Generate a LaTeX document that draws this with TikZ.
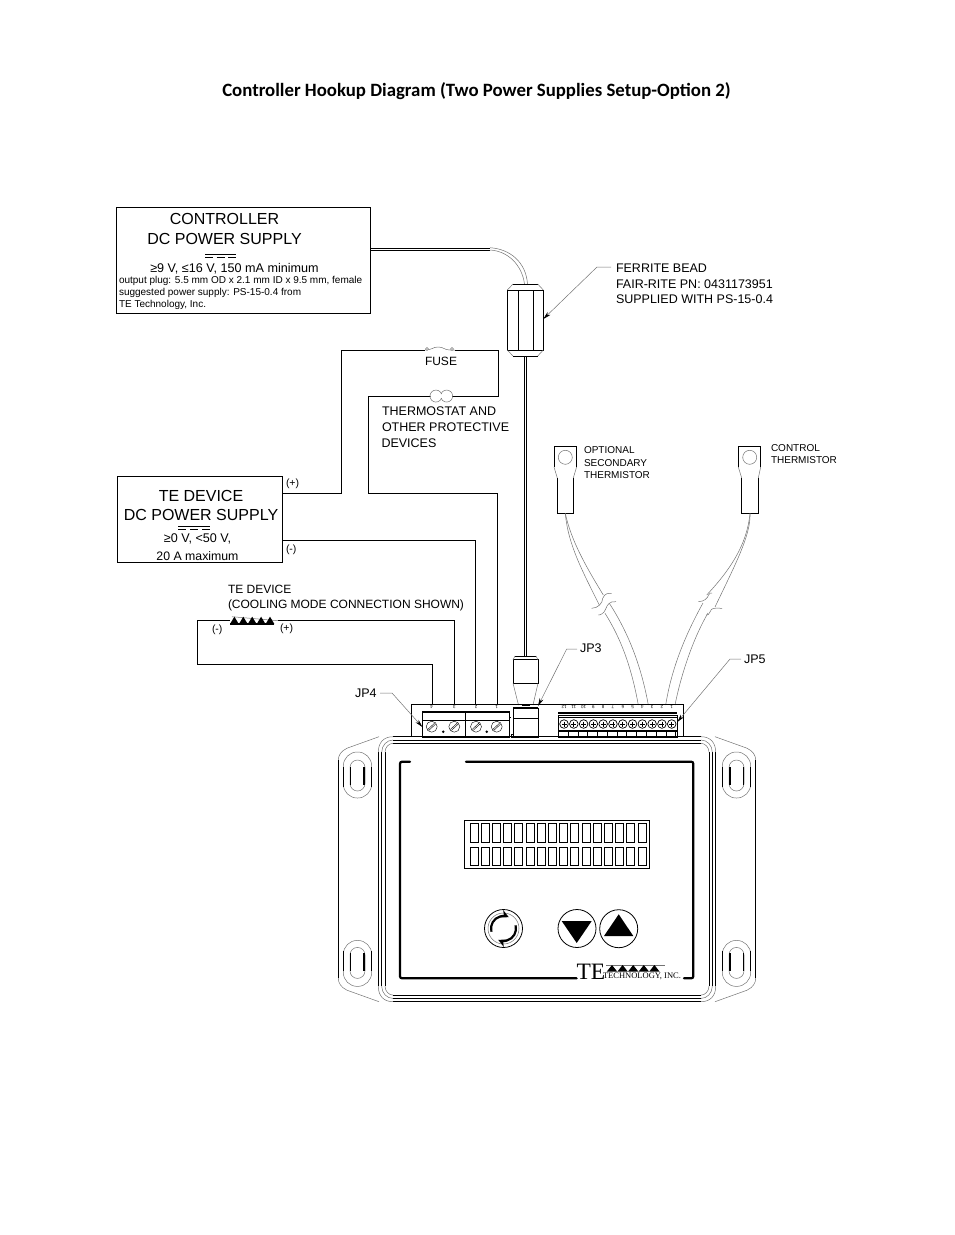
\documentclass[tikz,border=0pt]{standalone}
\usepackage{fontspec}
\setmainfont{Liberation Sans}
\newfontfamily\titlefont{Carlito}
\newfontfamily\logofont{Liberation Serif}
\usepackage{tikz}
\usetikzlibrary{arrows.meta}
\newcommand{\fs}[1]{\fontsize{#1}{#1}\selectfont}
\tikzset{
    psbox/.style={draw, line width=0.9pt, inner sep=0pt, outer sep=0pt},
    wire/.style={line width=1pt},
    thin wire/.style={line width=0.8pt},
    hair/.style={draw=black!55, line width=0.5pt},
    leader/.style={hair, -{Stealth[black, length=8pt, width=4pt]}},
    txt/.style={inner sep=0pt, outer sep=0pt, anchor=base west, align=left},
    mid/.style={inner sep=0pt, outer sep=0pt, anchor=base},
    pin/.style={inner sep=0pt, outer sep=0pt, rotate=180, font=\fs{4.5}},
    btn/.style={circle, draw, line width=0.8pt, minimum size=38pt, inner sep=0pt, outer sep=0pt},
    tri/.style={fill=black, draw=none}
}
\begin{document}
\begin{tikzpicture}[x=1pt, y=-1pt]
\useasboundingbox (0,0) rectangle (954,1235);
\node[mid, font=\titlefont\bfseries\fs{18.8}] (title) at (476.5,96) {Controller Hookup Diagram (Two Power Supplies Setup-Option 2)};

\node[psbox, minimum width=254pt, minimum height=106pt] (ctrlbox) at (243,260) {};
\node[mid, font=\fs{16}] (ctrlone) at (224.5,224) {CONTROLLER};
\node[mid, font=\fs{16}] (ctrltwo) at (224.5,244) {DC POWER SUPPLY};
\draw[line width=0.7pt] (205,254) -- (236,254);
\draw[line width=0.7pt, dash pattern=on 8pt off 3.5pt] (205,257) -- (236,257);
\node[mid, font=\fs{12.6}] (ctrlthree) at (234.5,272) {≥9 V, ≤16 V, 150 mA minimum};
\node[txt, font=\fs{10}] (ctrlfour) at (119,283) {output plug: 5.5 mm OD x 2.1 mm ID x 9.5 mm, female};
\node[txt, font=\fs{10}] (ctrlfive) at (119,295) {suggested power supply: PS-15-0.4 from};
\node[txt, font=\fs{10}] (ctrlsix) at (119,307) {TE Technology, Inc.};

\node[psbox, minimum width=165.3pt, minimum height=86pt] (tebox) at (199.7,519.7) {};
\node[mid, font=\fs{16}] (teone) at (201,501) {TE DEVICE};
\node[mid, font=\fs{16}] (tetwo) at (201,520) {DC POWER SUPPLY};
\draw[line width=0.7pt] (178,526) -- (210,526);
\draw[line width=0.7pt, dash pattern=on 8pt off 4pt] (178,529) -- (210,529);
\node[mid, font=\fs{12.6}] (tethree) at (197.5,542) {≥0 V, <50 V,};
\node[mid, font=\fs{12.3}] (tefour) at (197.5,560) {20 A maximum};

\coordinate (ctrlout) at (370,248);
\coordinate (ctrlouttwo) at (370,250);
\coordinate (teplus) at (282.3,493.3);
\coordinate (teminus) at (282.3,540);
\coordinate (fuseleft) at (425,350);
\coordinate (fuseright) at (455,350);
\coordinate (thermleft) at (430,396);
\coordinate (thermright) at (452,396);
\coordinate (pelleft) at (230,620.7);
\coordinate (pelright) at (278,620.7);
\coordinate (pinone) at (432.3,704);
\coordinate (pintwo) at (454.3,704);
\coordinate (pinthree) at (475.5,704);
\coordinate (pinfour) at (497.3,704);

\draw[wire] (teplus) -| (341.7,350) -- (fuseleft);
\draw[wire] (fuseright) -| (498.3,396) -- (thermright);
\draw[wire] (thermleft) -| (368.3,493.3) -| (pinfour);
\draw[wire] (teminus) -| (pinthree);
\draw[wire] (pelright) -| (pintwo);
\draw[wire] (pelleft) -| (197.3,664) -| (pinone);

\draw[hair] (fuseleft) .. controls (432,350) and (433,347) .. (438,347) .. controls (444,347) and (444,350) .. (450,350) -- (fuseright);
\draw[hair, fill=white] (427,349) circle (1.5pt) (452,349) circle (1.5pt);
\draw[hair] (thermleft) -- (431,396);
\draw[hair] (441.6,394) arc[start angle=20, end angle=340, radius=6pt];
\draw[hair] (441,394) arc[start angle=160, end angle=-160, radius=6pt];
\node[mid, font=\fs{12}] (fuselbl) at (441,365) {FUSE};
\node[txt, font=\fs{12.5}] (thermone) at (382,415.5) {THERMOSTAT AND};
\node[txt, font=\fs{12.5}] (thermtwo) at (382,431.5) {OTHER PROTECTIVE};
\node[txt, font=\fs{12.5}] (thermthree) at (381.5,447) {DEVICES};
\node[txt, font=\fs{10.5}] (plus) at (286,486) {(+)};
\node[txt, font=\fs{10.5}] (minus) at (286,552) {(-)};
\node[txt, font=\fs{12}] (pelone) at (228,593) {TE DEVICE};
\node[txt, font=\fs{12}] (peltwo) at (228,608) {(COOLING MODE CONNECTION SHOWN)};
\node[txt, font=\fs{10.5}] (pelminus) at (212,632) {(-)};
\node[txt, font=\fs{10.5}] (pelplus) at (280,631) {(+)};
\draw[hair] (232,616.7) -- (pelright);
\draw[line width=1.2pt] (230,624) -- (274,624);
\foreach \i in {0,...,4}
    \fill[tri] (230+\i*8.9,624) -- (234.4+\i*8.9,616.7) -- (238.8+\i*8.9,624) -- cycle;

\draw[thin wire] (ctrlout) -- (490,248);
\draw[thin wire] (ctrlouttwo) -- (490,250);
\draw[hair] (490,247.7) .. controls (510,249) and (526,262) .. (527.5,284);
\draw[hair] (490,250) .. controls (508,251) and (522,265) .. (524.5,284);

\node[psbox, minimum width=36pt, minimum height=60pt] (bead) at (525.3,320) {};
\draw[line width=0.9pt] (518.3,290) -- (518.3,350);
\draw[line width=0.9pt] (533.3,290) -- (533.3,350);
\draw[line width=0.9pt] (513,284) -- (537.7,284);
\draw[line width=0.9pt] (513,356) -- (537.7,356);
\draw[hair] (bead.north west) -- (513,284) (bead.north east) -- (537.7,284);
\draw[hair] (bead.south west) -- (513,356) (bead.south east) -- (537.7,356);
\draw[thin wire] (524,356) -- (524,656);
\draw[thin wire] (526.3,356) -- (526.3,656);
\node[txt, font=\fs{12.5}] (beadone) at (616,272.5) {FERRITE BEAD};
\node[txt, font=\fs{12.5}] (beadtwo) at (616,288) {FAIR-RITE PN: 0431173951};
\node[txt, font=\fs{12.5}] (beadthree) at (616,303) {SUPPLIED WITH PS-15-0.4};
\coordinate (beadnote) at (611,267);
\draw[leader] (beadnote) -- (597,267) -- (bead.east |- 0,319);

\node[psbox, minimum width=25pt, minimum height=23.5pt] (plug) at (525.5,671.5) {};
\draw[line width=0.9pt] (515,656) -- (536,656);
\draw[hair] (plug.north west) -- (515,656) (plug.north east) -- (536,656);
\draw[hair] (plug.south west) -- (518.5,705) (plug.south east) -- (533,705);
\draw[line width=1pt] (521.7,705.5) -- (530,705.5);
\node[psbox, minimum width=25pt, minimum height=29pt] (jack) at (525.5,722.5) {};
\draw[line width=0.9pt] (513,718) -- (538,718);
\draw[line width=1.3pt] (513,708) -- (538,708);

\coordinate (stemone) at (565.3,513.3);
\coordinate (stemtwo) at (750,513.3);
\draw[line width=0.9pt] (554,467) -- (554,446) -- (576.6,446) -- (576.6,467);
\draw[line width=0.9pt] (557.3,478) |- (573.3,513.3) -- (573.3,478);
\draw[hair] (565.3,457.3) circle (7pt);
\draw[hair] (554,467) -- (557.3,478) (576.6,467) -- (573.3,478);
\draw[line width=0.9pt] (738.3,467) -- (738.3,446) -- (760.7,446) -- (760.7,467);
\draw[line width=0.9pt] (741.7,478) |- (758.3,513.3) -- (758.3,478);
\draw[hair] (749.7,457.3) circle (7pt);
\draw[hair] (738.3,467) -- (741.7,478) (760.7,467) -- (758.3,478);
\node[txt, font=\fs{10}] (optone) at (584,453.5) {OPTIONAL};
\node[txt, font=\fs{10}] (opttwo) at (584,466.5) {SECONDARY};
\node[txt, font=\fs{10}] (optthree) at (584,478) {THERMISTOR};
\node[txt, font=\fs{10}] (ctlone) at (771,451.5) {CONTROL};
\node[txt, font=\fs{10}] (ctltwo) at (771,463) {THERMISTOR};

\draw[hair] (stemone) .. controls (568,545) and (583,572) .. (599.3,605);
\draw[hair] (stemone) .. controls (571,540) and (585,565) .. (603.3,595);
\draw[hair] (605,613.3) .. controls (622,640) and (632,670) .. (638.3,705);
\draw[hair] (609.3,603.3) .. controls (630,635) and (642,670) .. (648.3,705);
\draw[hair] (591.7,608.3) .. controls (598,608.3) and (602.7,603) .. (602.7,598.3) .. controls (605,593.3) and (608,593) .. (611.7,593.3);
\draw[hair] (616,601.7) .. controls (610,600.7) and (607,605) .. (606,608.3) .. controls (604,614) and (600,615) .. (598.3,615);
\draw[hair] (stemtwo) .. controls (747,545) and (730,570) .. (706.7,595);
\draw[hair] (stemtwo) .. controls (751,535) and (735,565) .. (715,607);
\draw[hair] (703,603) .. controls (688,630) and (672,665) .. (665.7,705);
\draw[hair] (708,613) .. controls (695,635) and (682,670) .. (675,705);
\draw[hair] (698.3,601.7) .. controls (704,601.7) and (708,598) .. (708.5,595) .. controls (709,593) and (711,593) .. (712,593);
\draw[hair] (722,608.3) .. controls (716,608.3) and (711,607) .. (710,612) .. controls (709.5,615) and (707,615) .. (706,615);

\draw[line width=0.8pt] (411.7,737) -- (411.7,704) -- (683.3,704) -- (683.3,737);

\node[psbox, minimum width=86.7pt, minimum height=26pt] (jpfour) at (465.7,724) {};
\draw[line width=2pt] (422.3,712) -- (509,712);
\draw[line width=0.7pt] (422.3,720) -- (509,720);
\draw[line width=0.8pt] (465.7,711) -- (465.7,737);
\draw[line width=0.8pt] (509,717.5) -- (511,717.5);
\draw[line width=0.7pt] (511,737) rectangle (513,734.5);
\foreach \i/\x in {4/431.7,3/454.3,2/476,1/496.7} {
    \node[pin] (jpfourpin\i) at (\x,707.5) {\i};
    \draw[line width=0.4pt] (\x,726.7) circle (5.5pt);
    \draw[line width=0.4pt] (\x-4,729.5) -- (\x+3,723) (\x-3,730.5) -- (\x+4,724);
}
\fill (443.3,731.7) circle (1.4pt);
\fill (486.7,731.7) circle (1.4pt);
\node[txt, font=\fs{12.5}] (jpfourlbl) at (355,697) {JP4};
\coordinate (jpfournote) at (380,693);
\draw[leader] (jpfournote) -- (392,693) -- (jpfour.west |- 0,727);

\node[psbox, minimum width=119pt, minimum height=22pt] (jpfive) at (617.8,726) {};
\draw[line width=1.5pt] (558.3,713) -- (677.3,713);
\draw[line width=0.6pt] (558.3,717) -- (677.3,717);
\draw[line width=1.6pt] (558.3,731) -- (677.3,731);
\foreach \i in {1,...,12} {
    \pgfmathsetmacro{\xp}{671.7-(\i-1)*9.79}
    \node[pin] (jpfivepin\i) at (\xp,706.8) {\i};
    \draw[line width=0.7pt] (\xp,724) circle (4.3pt);
    \draw[line width=0.7pt] (\xp-2.5,724) -- (\xp+2.5,724) (\xp,721.5) -- (\xp,726.5);
    \draw[line width=0.6pt] (\xp+4,731) -- (\xp+4,737);
}
\node[txt, font=\fs{12.5}] (jpthreelbl) at (580,652.5) {JP3};
\coordinate (jpthreenote) at (577,649);
\draw[leader] (jpthreenote) -- (566.7,649) -- (538,706);
\node[txt, font=\fs{12.5}] (jpfivelbl) at (744,663.5) {JP5};
\coordinate (jpfivenote) at (741,659);
\draw[leader] (jpfivenote) -- (730,659) -- (jpfive.east |- 0,722);

\foreach \sx/\sy in {1/1,-1/1,1/-1,-1/-1} {
\begin{scope}[shift={(547,869.2)}, xscale=\sx, yscale=\sy]
    \draw[line width=1pt] (-154,-132.5) -- (0,-132.5);
    \draw[line width=1pt] (-154,-129.2) -- (0,-129.2);
    \draw[line width=1pt] (-154,-125.9) -- (0,-125.9);
    \draw[line width=1pt] (-168.7,-117) -- (-168.7,0);
    \draw[line width=1pt] (-165.3,-117) -- (-165.3,0);
    \draw[line width=1pt] (-162,-117) -- (-162,0);
    \draw[hair] (-168.7,-117) .. controls (-168.7,-127) and (-163,-132.5) .. (-154,-132.5);
    \draw[hair] (-165.3,-117) .. controls (-165.3,-124) and (-160,-129.2) .. (-154,-129.2);
    \draw[hair] (-162,-117) .. controls (-162,-122) and (-158,-125.9) .. (-154,-125.9);
    \draw[hair] (-168,-132.5) -- (-200,-121) .. controls (-206,-118) and (-208.7,-114) .. (-208.7,-109);
    \draw[line width=0.9pt] (-208.7,-109) -- (-208.7,0);
    \draw[hair, rounded corners=14pt] (-203.7,-117.2) rectangle (-175.3,-71.2);
    \draw[hair, rounded corners=7.5pt] (-197,-109.2) rectangle (-182,-78.2);
    \draw[line width=0.9pt] (-203.7,-102) -- (-203.7,-82);
    \draw[line width=0.9pt] (-175.3,-102) -- (-175.3,-82);
    \draw[line width=1.8pt] (-196.5,-102) -- (-196.5,-84);
    \draw[line width=1.4pt] (-183,-102) -- (-183,-84);
\end{scope}
}

\draw[line width=2.2pt, line cap=round, rounded corners=2pt] (410,761.7) -- (400,761.7) -- (400,978.3) -- (576.7,978.3);
\draw[line width=2.2pt, line cap=round, rounded corners=2pt] (466,761.7) -- (693.3,761.7) -- (693.3,978.3) -- (684,978.3);

\node[psbox, line width=0.7pt, minimum width=185pt, minimum height=48.3pt] (lcd) at (556.8,844.2) {};
\foreach \i in {0,...,15} {
    \draw[line width=0.8pt] (470+\i*11.2,823.3) rectangle ++(8,19);
    \draw[line width=0.8pt] (470+\i*11.2,847) rectangle ++(8,18);
}

\node[btn] (modebtn) at (503.5,928.5) {};
\draw[hair] (modebtn.center) circle (15.5pt);
\draw[line width=2.2pt, -{Stealth[length=8pt, width=8pt]}] ([shift={(195:12.5pt)}]modebtn.center) arc[start angle=195, end angle=65, radius=12.5pt];
\draw[line width=2.2pt, -{Stealth[length=8pt, width=8pt]}] ([shift={(15:12.5pt)}]modebtn.center) arc[start angle=15, end angle=-115, radius=12.5pt];
\node[btn] (downbtn) at (577,928.5) {};
\fill[tri] (561.7,921) -- (591.7,921) -- (576.7,943) -- cycle;
\node[btn] (upbtn) at (618.7,928.7) {};
\fill[tri] (604,936) -- (633.3,936) -- (618.7,914.3) -- cycle;

\node[txt, font=\logofont\fs{23.5}] (logote) at (576.5,979) {TE};
\node[txt, font=\logofont\fs{8.5}] (logotech) at (603,978.5) {TECHNOLOGY, INC.};
\draw[hair] (606,965) -- (665,965);
\foreach \i in {0,...,4}
    \fill[tri] (606.7+\i*10.6,971.7) -- (612+\i*10.6,965) -- (617.3+\i*10.6,971.7) -- cycle;
\end{tikzpicture}
\end{document}
